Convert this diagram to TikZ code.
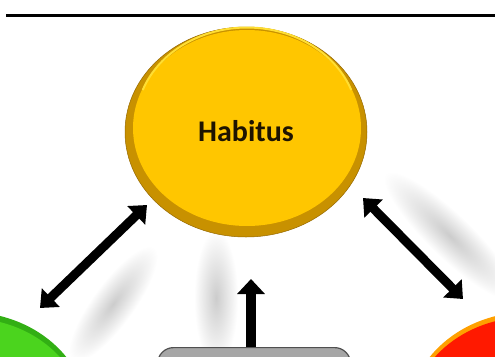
\documentclass[tikz,border=0pt]{standalone}
\usepackage{fontspec}
\setmainfont{Carlito}
\usetikzlibrary{shapes.geometric,arrows.meta}
\definecolor{goldrim}{RGB}{200,145,0}
\definecolor{goldface}{RGB}{255,198,0}
\definecolor{goldhi}{RGB}{255,222,50}
\definecolor{greenrim}{RGB}{50,175,20}
\definecolor{greenface}{RGB}{75,212,30}
\definecolor{redrim}{RGB}{255,160,0}
\definecolor{redface}{RGB}{255,25,0}
\definecolor{boxface}{RGB}{166,166,166}
\definecolor{boxline}{RGB}{80,80,80}
\tikzset{
  blob/.style={ellipse, minimum width=242pt, minimum height=210pt, inner sep=0pt},
  twoway/.style={line width=9pt, {Triangle[length=15pt,width=25pt]}-{Triangle[length=15pt,width=25pt]}},
  oneway/.style={line width=10.5pt, -{Triangle[length=15pt,width=27pt]}},
  streak/.style={inner color=black!20, outer color=white}
}
\begin{document}
\begin{tikzpicture}[x=1pt,y=-1pt]
\useasboundingbox (0,0) rectangle (495,356);
\clip (0,0) rectangle (495,356);
\fill[white] (0,0) rectangle (495,356);

% soft reflections
\begin{scope}[transform canvas={shift={(450,236)}, rotate=-44}]
  \shade[streak] (0,0) ellipse [x radius=90, y radius=22];
\end{scope}
\begin{scope}[transform canvas={shift={(113,304)}, rotate=54}]
  \shade[streak] (0,0) ellipse [x radius=70, y radius=21];
\end{scope}
\begin{scope}[transform canvas={shift={(216,298)}}]
  \shade[streak] (0,0) ellipse [x radius=22, y radius=68];
\end{scope}

% top rule
\draw[line width=3.4pt] (6,15.5) -- (495,15.5);

% Habitus ellipse
\node[blob, fill=goldrim, draw={rgb,255:red,150;green,105;blue,0}, line width=0.5pt] (hab) at (246,132) {};
\fill[goldface] (247,128) ellipse [x radius=114, y radius=98];
\draw[goldhi, line width=2pt] (247,128) ++(200:111) arc [start angle=200, end angle=340, x radius=111, y radius=95];
\node[font=\bfseries\fontsize{30}{32}\selectfont, text={rgb,255:red,30;green,20;blue,0}] (habtxt) at (246,131) {Habitus};

% green ellipse
\node[blob, fill=greenrim] (grn) at (-33,417) {};
\fill[greenface] (-33,420) ellipse [x radius=118, y radius=102];

% red ellipse
\node[blob, fill=redrim] (red) at (529,417) {};
\fill[redface] (529,420) ellipse [x radius=119, y radius=103];

% gray box
\node[draw=boxline, fill=boxface, line width=1.2pt, rounded corners=16pt,
      minimum width=193pt, minimum height=80pt, anchor=north west] (box) at (157,347) {};

% arrows
\coordinate (hl) at (147,205);
\coordinate (gl) at (40,308);
\coordinate (hr) at (363,198);
\coordinate (rr) at (463,299);
\coordinate (ub) at (251,279);
\draw[twoway] (hl) -- (gl);
\draw[twoway] (hr) -- (rr);
\draw[oneway] (box.north -| ub) -- (ub);
\end{tikzpicture}
\end{document}
